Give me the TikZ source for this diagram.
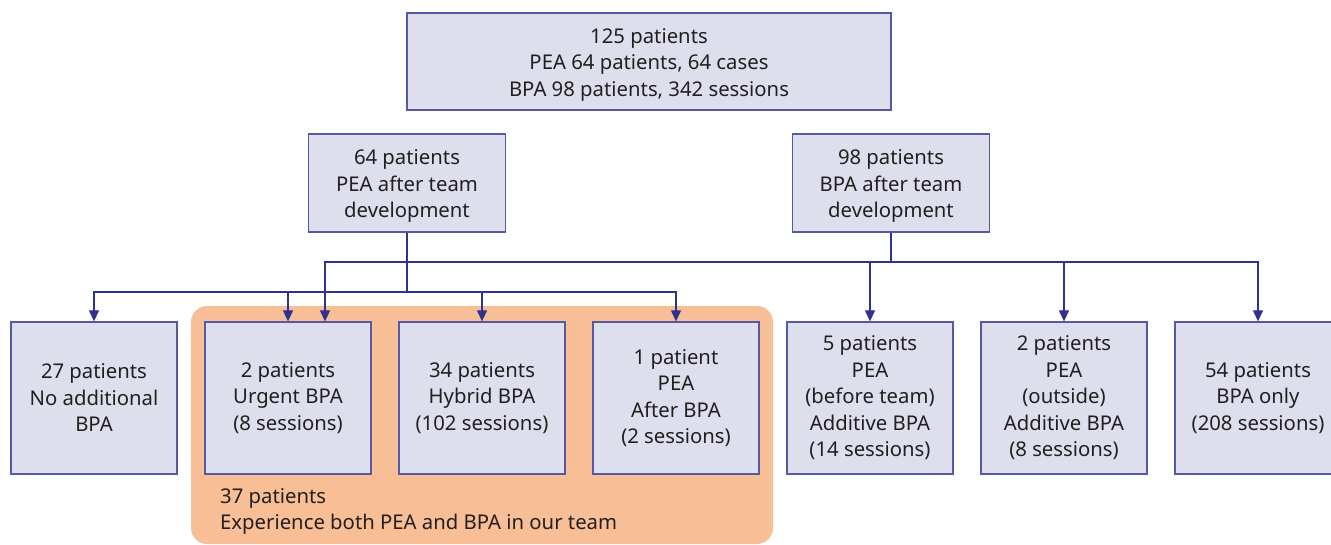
\documentclass[tikz,border=0pt]{standalone}
\usepackage{fontspec}
\setmainfont{Noto Sans}
\usetikzlibrary{arrows.meta}
\definecolor{boxfill}{HTML}{DEDFEC}
\definecolor{boxline}{HTML}{5558A5}
\definecolor{linkblue}{HTML}{2E3192}
\definecolor{groupfill}{HTML}{F8BF96}
\definecolor{txt}{HTML}{231F20}
\newcommand{\topgap}{\rule{0pt}{21.5pt}}

\begin{document}
\begin{tikzpicture}[x=1pt, y=-1pt,
  every node/.style = {text=txt, font=\fontsize{20.3}{26.5}\selectfont},
  box/.style = {shape=rectangle, draw=boxline, line width=1.3pt,
    fill=boxfill, align=center, inner sep=0pt},
  wide/.style = {box, minimum width=484pt, minimum height=97pt},
  mid/.style = {box, minimum width=197pt, minimum height=98pt},
  leaf/.style = {box, minimum width=166pt, minimum height=152pt},
  link/.style = {draw=linkblue, line width=1.2pt,
    -{Triangle[length=11pt, width=10pt]}}]
  \useasboundingbox (0,0) rectangle (1331,545);
  % shaded group behind the three middle boxes
  \fill[groupfill, rounded corners=16pt] (191,306) rectangle (773,544);

  \node[wide] (all) at (649,61.5) {\topgap 125 patients\\PEA 64 patients, 64 cases\\BPA 98 patients, 342 sessions};
  \node[mid] (pea) at (407,183) {\topgap 64 patients\\PEA after team\\development};
  \node[mid] (bpa) at (891,183) {\topgap 98 patients\\BPA after team\\development};

  \node[leaf] (none)   at (94,398)   {27 patients\\No additional\\BPA};
  \node[leaf] (urgent) at (288,398)  {2 patients\\Urgent BPA\\(8 sessions)};
  \node[leaf] (hybrid) at (482,398)  {34 patients\\Hybrid BPA\\(102 sessions)};
  \node[leaf] (after)  at (676,398)  {1 patient\\PEA\\After BPA\\(2 sessions)};
  \node[leaf] (before) at (870,398)  {5 patients\\PEA\\(before team)\\Additive BPA\\(14 sessions)};
  \node[leaf] (outside) at (1064,398) {2 patients\\PEA\\(outside)\\Additive BPA\\(8 sessions)};
  \node[leaf] (only)   at (1258,398) {54 patients\\BPA only\\(208 sessions)};

  \node[align=left, anchor=north west, inner sep=0pt] (both) at (220,488)
    {37 patients\\Experience both PEA and BPA in our team};

  % PEA branch
  \coordinate (pj) at (407,292);
  \draw[line width=1.2pt, draw=linkblue] (pea.south) -- (pj);
  \foreach \b in {none, urgent, hybrid, after}
    \draw[link] (pj) -| (\b.north);

  % BPA branch
  \coordinate (bj) at (891,262);
  \draw[line width=1.2pt, draw=linkblue] (bpa.south) -- (bj);
  \draw[link] (bj) -| ([xshift=37pt]urgent.north);
  \foreach \b in {before, outside, only}
    \draw[link] (bj) -| (\b.north);
\end{tikzpicture}
\end{document}
